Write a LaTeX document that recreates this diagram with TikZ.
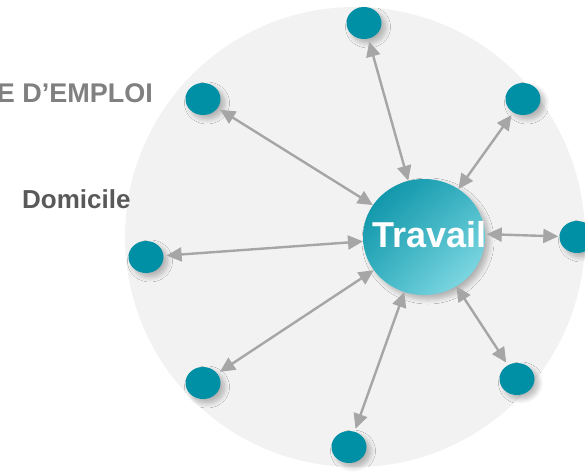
\documentclass[tikz,border=0pt]{standalone}
\usepackage{fontspec}
\setmainfont{Liberation Sans}
\usetikzlibrary{arrows.meta,shapes.geometric,shadows.blur,shadings}
\definecolor{spotteal}{RGB}{0,144,165}
\definecolor{hubdark}{RGB}{0,140,160}
\definecolor{hubmid}{RGB}{60,180,196}
\definecolor{hublight}{RGB}{150,228,236}
\definecolor{ringgrey}{RGB}{242,242,242}
\definecolor{linkgrey}{RGB}{166,166,166}
\definecolor{titlegrey}{RGB}{128,128,128}
\definecolor{labelgrey}{RGB}{89,89,89}
\begin{document}
\begin{tikzpicture}[x=1pt,y=-1pt,
  softshadow/.style={blur shadow={shadow xshift=4pt,shadow yshift=-4pt,
      shadow blur steps=10,shadow blur radius=5pt,shadow opacity=28}},
  spot/.style={ellipse,fill=spotteal,minimum width=35pt,minimum height=32pt,
      inner sep=0pt,softshadow},
  hub/.style={ellipse,minimum width=122pt,minimum height=116pt,inner sep=0pt,
      shade,upper left=hubdark,upper right=hubmid,lower left=hubmid,
      lower right=hublight,softshadow},
  link/.style={draw=linkgrey,line width=2.4pt,
      {Triangle[length=15pt,width=14pt]}-{Triangle[length=15pt,width=14pt]},
      shorten <=0pt,shorten >=3pt}]

\useasboundingbox (0,0) rectangle (585,471);

% pale disc behind the network
\fill[ringgrey] (355,237) circle (230pt);

% side labels
\node[anchor=base east,inner sep=0pt,text=titlegrey,
      font=\bfseries\fontsize{27}{30}\selectfont] (zone) at (153,102) {E D’EMPLOI};
\node[anchor=base west,inner sep=0pt,text=labelgrey,
      font=\bfseries\fontsize{26}{30}\selectfont] (dom) at (22,208) {Domicile};

% central hub
\node[hub] (trav) at (424,237) {};

% surrounding places
\node[spot] (n1) at (364,23) {};
\node[spot] (n2) at (203,99) {};
\node[spot] (n3) at (523,99) {};
\node[spot] (n4) at (146,257) {};
\node[spot] (n5) at (577,237) {};
\node[spot] (n6) at (203,383) {};
\node[spot] (n7) at (349,447) {};
\node[spot] (n8) at (517,379) {};

% two-way links
\foreach \n in {n1,n2,n3,n4,n6,n7,n8}
  \draw[link] (trav) -- (\n);

\node[anchor=base,inner sep=0pt,text=white,
      font=\bfseries\fontsize{36}{40}\selectfont] (travlabel) at (429.5,247) {Travail};
\draw[link,shorten >=1pt] (travlabel.east) -- (n5);
\end{tikzpicture}
\end{document}
